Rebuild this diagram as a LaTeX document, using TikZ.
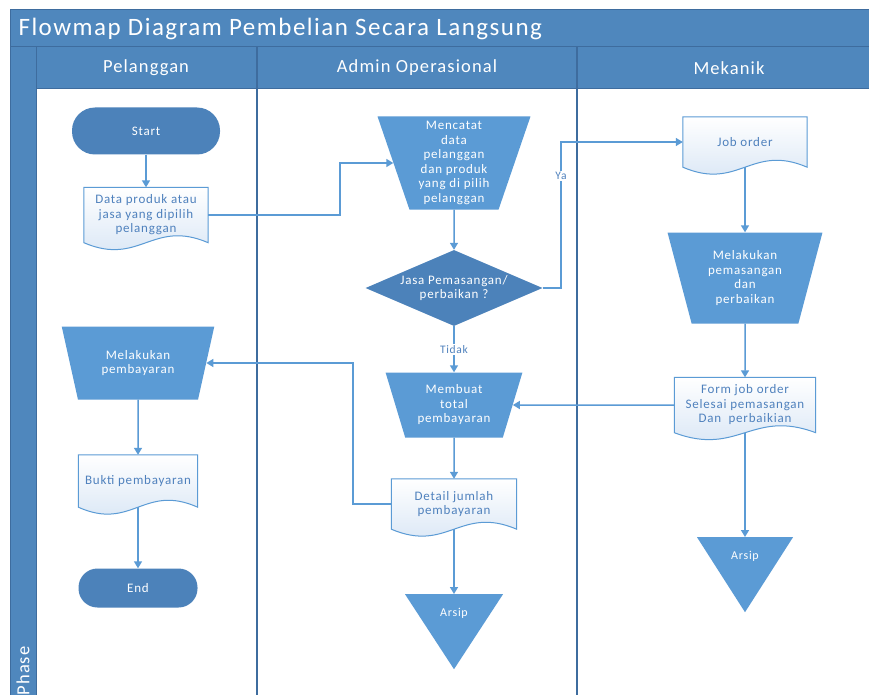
\documentclass[tikz,border=0pt]{standalone}
\usepackage{fontspec}
\setmainfont{Carlito}[LetterSpace=6]
\usetikzlibrary{shapes.geometric,arrows.meta,backgrounds,calc}
\definecolor{hdrblue}{RGB}{79,135,189}
\definecolor{edgeblue}{RGB}{62,108,158}
\definecolor{darkfill}{RGB}{76,130,186}
\definecolor{lightfill}{RGB}{91,155,213}
\definecolor{docfill}{RGB}{212,227,244}
\definecolor{doctext}{RGB}{79,129,189}

\newcommand\wavedoc[1]{%
  \begin{scope}[on background layer]
    \draw[docline] (#1.north west) -- (#1.south west)
      .. controls ($(#1.south west)!0.45!(#1.south east)+(0,24)$) and ($(#1.south west)!0.55!(#1.south east)+(0,-24)$) .. (#1.south east)
      -- (#1.north east) -- cycle;
  \end{scope}}

\begin{document}
\begin{tikzpicture}[x=1pt, y=-1pt, >={Triangle[width=8pt,length=7pt]}]
  \tikzstyle{flow}=[draw=lightfill, line width=1.5pt, ->]
  \tikzstyle{docline}=[draw=lightfill, line width=1pt, top color=white, bottom color=docfill]
  \tikzstyle{body}=[font=\fontsize{13}{14.5}\selectfont, align=center, inner sep=0pt]
  \tikzstyle{term}=[body, rectangle, fill=darkfill, text=white]
  \tikzstyle{proc}=[body, trapezium, shape border rotate=180, trapezium stretches=true, fill=lightfill, text=white]
  \tikzstyle{decision}=[body, diamond, aspect=2.33, minimum width=177, minimum height=76, fill=darkfill, text=white]
  \tikzstyle{docbox}=[body, rectangle, text=doctext]
  \tikzstyle{store}=[isosceles triangle, shape border rotate=-90, isosceles triangle stretches, fill=lightfill, inner sep=0pt, anchor=north]
  \tikzstyle{lbl}=[fill=white, text=doctext, font=\fontsize{11.5}{12}\selectfont, inner sep=1.5pt]
  \tikzstyle{lane}=[text=white, font=\fontsize{18.5}{21}\selectfont]

  \useasboundingbox (0,0) rectangle (869,695);
  \begin{scope}[on background layer]
    \fill[white] (0,0) rectangle (869,695);
  \end{scope}

  \fill[hdrblue] (10,10) rectangle (880,89);
  \fill[hdrblue] (10,89) rectangle (36,700);
  \draw[edgeblue, line width=1pt] (10,700) -- (10,10) -- (880,10);
  \draw[edgeblue, line width=1pt] (10,47) -- (880,47);
  \draw[edgeblue, line width=1pt] (36,47) -- (36,700);
  \draw[edgeblue, line width=1pt] (36,89) -- (880,89);
  \draw[edgeblue, line width=1.5pt] (257,47) -- (257,700);
  \draw[edgeblue, line width=1.5pt] (577,47) -- (577,700);

  \node[anchor=west, text=white, font=\fontsize{25}{28}\selectfont] (title) at (15,29) {Flowmap Diagram Pembelian Secara Langsung};
  \node[lane] (laneP) at (146,68) {Pelanggan};
  \node[lane] (laneA) at (417,68) {Admin Operasional};
  \node[lane] (laneM) at (729,68) {Mekanik};
  \node[lane, rotate=90, anchor=west] (phase) at (23,699) {Phase};

  \node[term, minimum width=148, minimum height=47, rounded corners=23] (start) at (146,131) {Start};
  \node[docbox, minimum width=124, minimum height=55] (dataDoc) at (146,215) {Data produk atau\\jasa yang dipilih\\pelanggan};
  \wavedoc{dataDoc}
  \draw[flow] (start) -- (dataDoc);

  \node[proc, minimum width=153, minimum height=93, trapezium angle=73] (catat) at (454,163) {Mencatat\\data\\pelanggan\\dan produk\\yang di pilih\\pelanggan};
  \coordinate (jog1) at (340,190);
  \draw[flow] (dataDoc.east) -| (jog1) |- (catat.west);

  \node[decision] (jasa) at (454,288) {Jasa Pemasangan/\\perbaikan ?};
  \draw[flow] (catat) -- (jasa);

  \node[docbox, minimum width=124, minimum height=50] (jobDoc) at (745,142) {Job order};
  \wavedoc{jobDoc}
  \coordinate (yaPt) at (561,176);
  \draw[flow] (jasa.east) -| (yaPt) node[lbl] {Ya} |- (jobDoc.west);

  \node[proc, minimum width=137, minimum height=65, trapezium angle=70] (total) at (454,405) {Membuat\\total\\pembayaran};
  \draw[flow] (jasa) -- (total) node[lbl, midway] {Tidak};

  \node[proc, minimum width=155, minimum height=91, trapezium angle=73] (pasang) at (745,278) {Melakukan\\pemasangan\\dan\\perbaikan};
  \draw[flow] (jobDoc) -- (pasang);

  \node[docbox, minimum width=141, minimum height=55] (formDoc) at (745,405) {Form job order\\Selesai pemasangan\\Dan\ \ perbaikian};
  \wavedoc{formDoc}
  \draw[flow] (pasang) -- (formDoc);
  \draw[flow] (formDoc.west) -- (total.east);

  \node[store, minimum width=96, minimum height=75] (arsipB) at (745,537) {};
  \node[text=white, font=\fontsize{12}{14}\selectfont] (arsipBtxt) at (745,556) {Arsip};
  \draw[flow] (formDoc) -- (arsipB.north);

  \node[docbox, minimum width=125, minimum height=50] (detail) at (454,504) {Detail jumlah\\pembayaran};
  \wavedoc{detail}
  \draw[flow] (total) -- (detail);

  \node[store, minimum width=98, minimum height=75] (arsipA) at (454,594) {};
  \node[text=white, font=\fontsize{12}{14}\selectfont] (arsipAtxt) at (454,613) {Arsip};
  \draw[flow] (detail) -- (arsipA.north);

  \node[proc, minimum width=153, minimum height=73, trapezium angle=69] (bayar) at (138,363) {Melakukan\\pembayaran};
  \coordinate (jog2) at (353,430);
  \draw[flow] (detail.west) -| (jog2) |- (bayar.east);

  \node[docbox, minimum width=119, minimum height=52] (bukti) at (138,481) {Bukti pembayaran};
  \wavedoc{bukti}
  \draw[flow] (bayar) -- (bukti);

  \node[term, minimum width=119, minimum height=39, rounded corners=19] (stop) at (138,588) {End};
  \draw[flow] (bukti) -- (stop);
\end{tikzpicture}
\end{document}
